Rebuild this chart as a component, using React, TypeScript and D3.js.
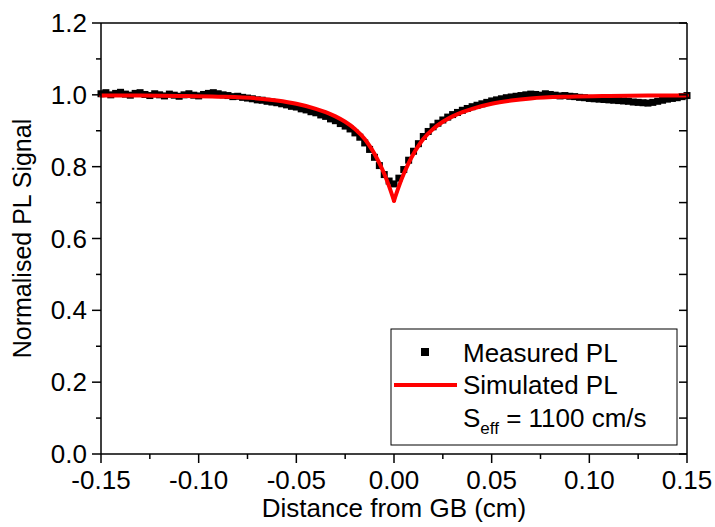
import React from "react";
import * as d3 from "d3";

const measuredX = [
  -0.15, -0.1475, -0.145, -0.1425, -0.14, -0.1375, -0.135, -0.1325, -0.13, -0.1275,
  -0.125, -0.1225, -0.12, -0.1175, -0.115, -0.1125, -0.11, -0.1075, -0.105, -0.1025,
  -0.1, -0.0975, -0.095, -0.0925, -0.09, -0.0875, -0.085, -0.0825, -0.08, -0.0775,
  -0.075, -0.0725, -0.07, -0.0675, -0.065, -0.0625, -0.06, -0.0575, -0.055, -0.0525,
  -0.05, -0.0475, -0.045, -0.0425, -0.04, -0.0375, -0.035, -0.0325, -0.03, -0.0275,
  -0.025, -0.0225, -0.02, -0.0175, -0.015, -0.0125, -0.01, -0.0075, -0.005, -0.0025,
  0.0,
  0.0025, 0.005, 0.0075, 0.01, 0.0125, 0.015, 0.0175, 0.02, 0.0225, 0.025,
  0.0275, 0.03, 0.0325, 0.035, 0.0375, 0.04, 0.0425, 0.045, 0.0475, 0.05,
  0.0525, 0.055, 0.0575, 0.06, 0.0625, 0.065, 0.0675, 0.07, 0.0725, 0.075,
  0.0775, 0.08, 0.0825, 0.085, 0.0875, 0.09, 0.0925, 0.095, 0.0975, 0.1,
  0.1025, 0.105, 0.1075, 0.11, 0.1125, 0.115, 0.1175, 0.12, 0.1225, 0.125,
  0.1275, 0.13, 0.1325, 0.135, 0.1375, 0.14, 0.1425, 0.145, 0.1475, 0.15,
];
const measuredY = [
  1.003, 1.006, 1.0, 1.004, 1.007, 1.002, 0.999, 1.004, 1.006, 1.001,
  0.998, 1.003, 1.0, 0.997, 1.002, 0.999, 0.996, 1.0, 1.003, 0.999,
  0.997, 1.001, 1.004, 1.006, 1.003, 1.0, 0.998, 0.995, 0.996, 0.993,
  0.991, 0.989, 0.986, 0.985, 0.982, 0.98, 0.978, 0.975, 0.972, 0.968,
  0.966, 0.961, 0.958, 0.953, 0.95, 0.944, 0.94, 0.933, 0.928, 0.92,
  0.913, 0.905, 0.894, 0.882, 0.866, 0.848, 0.826, 0.803, 0.778, 0.76,
  0.752,
  0.768, 0.792, 0.818, 0.843, 0.864, 0.884, 0.898, 0.911, 0.921, 0.93,
  0.938, 0.945, 0.951, 0.957, 0.962, 0.967, 0.971, 0.975, 0.979, 0.983,
  0.986, 0.989, 0.992, 0.994, 0.996, 0.998, 1.0, 1.002, 1.001, 0.999,
  1.003, 1.001, 0.999, 0.997, 0.998, 0.996, 0.995, 0.993, 0.992, 0.99,
  0.989, 0.988, 0.987, 0.986, 0.985, 0.984, 0.983, 0.982, 0.98, 0.979,
  0.978, 0.977, 0.979, 0.982, 0.985, 0.988, 0.99, 0.992, 0.995, 0.998,
];

const simX = [
  -0.15, -0.13, -0.11, -0.09, -0.07, -0.06, -0.05, -0.04, -0.035, -0.03,
  -0.025, -0.02, -0.015, -0.0125, -0.01, -0.0075, -0.005, -0.0025, 0,
  0.0025, 0.005, 0.0075, 0.01, 0.0125, 0.015, 0.02, 0.025, 0.03, 0.035,
  0.04, 0.05, 0.06, 0.07, 0.09, 0.11, 0.13, 0.15,
];
const simY = [
  0.998, 0.998, 0.997, 0.995, 0.99, 0.984, 0.975, 0.961, 0.952, 0.94,
  0.925, 0.905, 0.877, 0.858, 0.836, 0.81, 0.78, 0.745, 0.705,
  0.745, 0.78, 0.81, 0.836, 0.858, 0.877, 0.905, 0.925, 0.94, 0.952,
  0.961, 0.975, 0.984, 0.99, 0.995, 0.997, 0.998, 0.998,
];

const xTicks = [-0.15, -0.1, -0.05, 0, 0.05, 0.1, 0.15];
const xMinor = [-0.125, -0.075, -0.025, 0.025, 0.075, 0.125];
const yTicks = [0, 0.2, 0.4, 0.6, 0.8, 1.0, 1.2];
const yMinor = [0.1, 0.3, 0.5, 0.7, 0.9, 1.1];

const legendLabels = ["Measured PL", "Simulated PL"];

const W = 715;
const H = 527;
const M = { left: 101, right: 28, top: 23, bottom: 73 };
const FONT = "Arial, 'Liberation Sans', sans-serif";

export default function App() {
  const x = d3.scaleLinear().domain([-0.15, 0.15]).range([M.left, W - M.right]);
  const y = d3.scaleLinear().domain([0, 1.2]).range([H - M.bottom, M.top]);
  const x0 = x.range()[0], x1 = x.range()[1];
  const y0 = y.range()[0], y1 = y.range()[1];

  const sim = simX.map((v, i) => [v, simY[i]] as [number, number]);
  const line = d3
    .line<[number, number]>()
    .x((d) => x(d[0]))
    .y((d) => y(d[1]))
    .curve(d3.curveMonotoneX);
  const leftPath = line(sim.filter((d) => d[0] <= 0)) || "";
  const rightPath = line(sim.filter((d) => d[0] >= 0)) || "";

  const ms = 7;
  const fmt = (t: number) => d3.format(".2f")(t).replace("\u2212", "-");
  const fmtY = (t: number) => d3.format(".1f")(t).replace("\u2212", "-");

  const lgX = 391, lgY = 329, lgW = 286, lgH = 116;

  return (
    <svg width={W} height={H} style={{ position: "absolute", left: 0, top: 0, background: "#fff" }} fontFamily={FONT}>
      <rect x={0} y={0} width={W} height={H} fill="#fff" />
      <g fill="#000">
        {measuredX.map((v, i) => (
          <rect key={i} x={x(v) - ms / 2} y={y(measuredY[i]) - ms / 2} width={ms} height={ms} />
        ))}
      </g>
      <path d={leftPath} fill="none" stroke="#ff0000" strokeWidth={4} strokeLinejoin="round" strokeLinecap="round" />
      <path d={rightPath} fill="none" stroke="#ff0000" strokeWidth={4} strokeLinejoin="round" strokeLinecap="round" />

      <g stroke="#000" strokeWidth={1.5} fill="none">
        <line x1={x0} x2={x1} y1={y0} y2={y0} />
        <line x1={x0} x2={x1} y1={y1} y2={y1} />
        <line x1={x0} x2={x0} y1={y0} y2={y1} />
        <line x1={x1} x2={x1} y1={y0} y2={y1} />
      </g>
      <g stroke="#000" strokeWidth={1.5}>
        {xTicks.map((t) => (
          <line key={"xt" + t} x1={x(t)} x2={x(t)} y1={y0} y2={y0 + 9} />
        ))}
        {xMinor.map((t) => (
          <line key={"xm" + t} x1={x(t)} x2={x(t)} y1={y0} y2={y0 + 5} />
        ))}
        {yTicks.map((t) => (
          <line key={"yt" + t} x1={x0 - 9} x2={x0} y1={y(t)} y2={y(t)} />
        ))}
        {yMinor.map((t) => (
          <line key={"ym" + t} x1={x0 - 5} x2={x0} y1={y(t)} y2={y(t)} />
        ))}
        {yTicks.concat(yMinor).map((t) => (
          <line key={"yr" + t} x1={x1 - 8} x2={x1} y1={y(t)} y2={y(t)} />
        ))}
      </g>
      <g fontSize={26} fill="#000">
        {xTicks.map((t) => (
          <text key={"xl" + t} x={x(t)} y={y0 + 35} textAnchor="middle">
            {fmt(t)}
          </text>
        ))}
        {yTicks.map((t) => (
          <text key={"yl" + t} x={x0 - 14} y={y(t) + 9} textAnchor="end">
            {fmtY(t)}
          </text>
        ))}
      </g>
      <text x={(x0 + x1) / 2} y={H - 10} textAnchor="middle" fontSize={26}>
        Distance from GB (cm)
      </text>
      <text transform={`translate(31, ${(y0 + y1) / 2}) rotate(-90)`} textAnchor="middle" fontSize={25}>
        Normalised PL Signal
      </text>

      <rect x={lgX} y={lgY} width={lgW} height={lgH} fill="#fff" stroke="#000" strokeWidth={1} />
      <rect x={421} y={348} width={8} height={8} fill="#000" />
      <line x1={394} x2={457} y1={385} y2={385} stroke="#ff0000" strokeWidth={4} />
      <g fontSize={26} fill="#000">
        <text x={463} y={362}>{legendLabels[0]}</text>
        <text x={463} y={394}>{legendLabels[1]}</text>
        <text x={463} y={427}>
          S<tspan fontSize={17} dy={7}>eff</tspan>
          <tspan dy={-7}> = 1100 cm/s</tspan>
        </text>
      </g>
    </svg>
  );
}
